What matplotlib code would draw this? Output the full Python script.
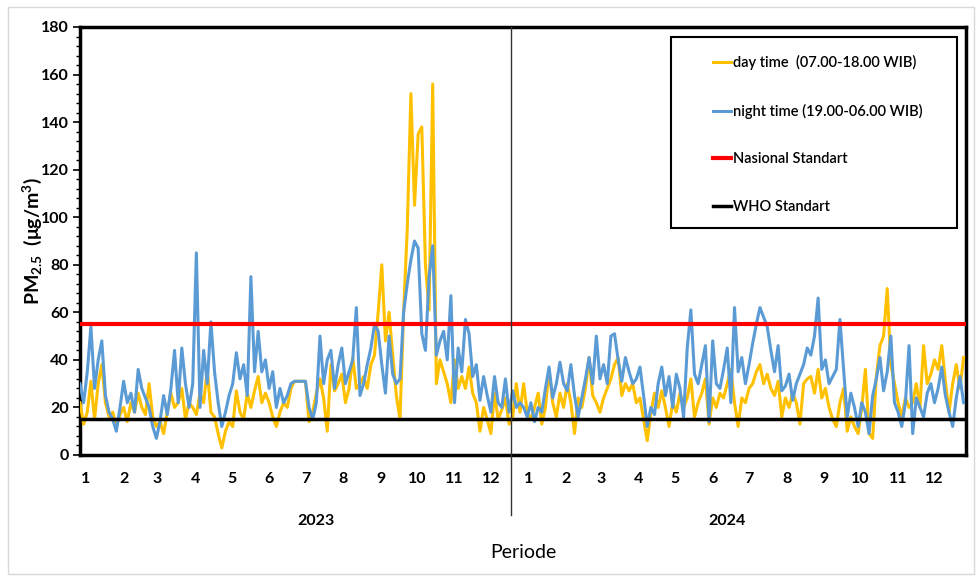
import matplotlib
matplotlib.use('Agg')
import matplotlib.pyplot as plt
import matplotlib.transforms as mtransforms
from matplotlib.patches import Rectangle
from matplotlib.ticker import MultipleLocator
import numpy as np
import pandas as pd

plt.rcParams['font.family'] = ['Lato', 'DejaVu Sans']
plt.rcParams['mathtext.fontset'] = 'custom'
plt.rcParams['mathtext.rm'] = 'Lato:bold'
plt.rcParams['mathtext.it'] = 'Lato:bold'
plt.rcParams['mathtext.bf'] = 'Lato:bold'

# one reading every 3 days, 1 Jan 2023 .. 31 Dec 2024
step_days = 3
night = [30, 22, 35, 54, 28, 40, 48, 25, 18, 15, 10, 20, 31, 22, 26, 18, 36, 28, 24, 20,
         12, 7, 14, 25, 17, 28, 44, 22, 45, 30, 20, 30, 85, 20, 44, 30, 56, 35, 22, 12,
         18, 25, 30, 43, 32, 38, 25, 75, 35, 52, 35, 40, 28, 35, 20, 28, 22, 25, 30, 31,
         31, 31, 31, 20, 15, 22, 50, 30, 40, 44, 28, 38, 45, 30, 35, 40, 62, 25, 30, 38,
         45, 55, 52, 38, 26, 50, 34, 30, 32, 60, 72, 82, 90, 87, 51, 44, 75, 88, 42, 48,
         52, 40, 67, 22, 45, 35, 57, 51, 33, 38, 23, 33, 25, 18, 33, 22, 20, 32, 18, 27,
         20, 22,
         20, 16, 22, 14, 20, 18, 28, 37, 24, 30, 39, 30, 27, 38, 25, 16, 24, 32, 41, 30,
         50, 32, 38, 30, 50, 51, 40, 31, 41, 35, 30, 32, 37, 25, 12, 20, 17, 30, 37, 25,
         33, 20, 34, 28, 16, 45, 61, 34, 30, 38, 46, 14, 48, 30, 28, 36, 45, 22, 62, 35,
         41, 30, 38, 47, 55, 62, 58, 54, 44, 35, 46, 27, 29, 34, 23, 30, 34, 38, 45, 42,
         50, 66, 36, 40, 30, 33, 36, 57, 36, 16, 26, 20, 12, 22, 18, 9, 25, 32, 41, 27,
         35, 50, 22, 18, 12, 22, 46, 9, 24, 20, 16, 26, 30, 22, 28, 37, 25, 18, 12, 24,
         33, 22]
day = [22, 13, 18, 31, 15, 30, 38, 22, 16, 18, 12, 17, 20, 14, 22, 18, 26, 20, 17, 30,
       16, 12, 14, 9, 18, 26, 20, 22, 28, 15, 22, 20, 17, 26, 22, 36, 18, 16, 9, 3,
       10, 14, 12, 27, 18, 15, 26, 20, 27, 33, 22, 26, 22, 16, 12, 18, 22, 20, 28, 31,
       31, 31, 31, 14, 18, 26, 32, 24, 10, 38, 27, 30, 34, 22, 28, 41, 28, 30, 33, 28,
       38, 42, 60, 80, 48, 60, 42, 25, 15, 60, 95, 152, 105, 135, 138, 80, 61, 156, 30, 40,
       35, 30, 22, 40, 28, 33, 28, 37, 26, 22, 10, 20, 15, 9, 26, 15, 19, 24, 13, 16,
       30, 18,
       30, 18, 15, 20, 26, 13, 20, 36, 22, 16, 26, 20, 30, 22, 9, 24, 20, 28, 41, 25,
       22, 18, 24, 28, 32, 38, 41, 25, 30, 27, 30, 22, 24, 15, 6, 18, 26, 20, 27, 20,
       12, 22, 18, 26, 20, 24, 32, 16, 22, 26, 32, 13, 24, 20, 26, 24, 30, 36, 22, 12,
       24, 22, 28, 30, 35, 38, 30, 34, 28, 25, 31, 16, 24, 20, 26, 22, 13, 30, 32, 33,
       26, 36, 24, 28, 20, 15, 12, 22, 28, 10, 16, 12, 9, 20, 36, 9, 7, 33, 46, 50,
       70, 38, 30, 22, 16, 24, 20, 22, 30, 20, 46, 30, 34, 40, 36, 46, 31, 18, 30, 38,
       28, 41]
nasional_std = 55
who_std = 15
years = ['2023', '2024']
month_labels = [str(m) for m in range(1, 13)] * 2

start = pd.Timestamp('2023-01-01')
month_starts = pd.date_range('2023-01-01', '2024-12-01', freq='MS')
tick_pos = [(d - start).days + 5 for d in month_starts]
year_split = (pd.Timestamp('2023-12-23') - start).days
n_days = (pd.Timestamp('2025-01-01') - start).days
year_label_pos = [(pd.Timestamp('2023-07-15') - start).days,
                  (pd.Timestamp('2024-06-18') - start).days]

x = np.arange(len(night)) * step_days

fig = plt.figure(figsize=(9.78, 5.77), dpi=100)
ax = fig.add_axes([80 / 978, 122 / 577, 886 / 978, 428 / 577])

ax.plot(x, day, color='#FFC000', lw=2.2, label='day time  (07.00-18.00 WIB)', zorder=3)
ax.plot(x, night, color='#5B9BD5', lw=2.2, label='night time (19.00-06.00 WIB)', zorder=3)
ax.axhline(nasional_std, color='#FF0000', lw=3, label='Nasional Standart', zorder=4)
ax.axhline(who_std, color='black', lw=2.5, label='WHO Standart', zorder=4)

ax.set_xlim(0, n_days)
ax.set_ylim(0, 180)
ax.yaxis.set_major_locator(MultipleLocator(20))
ax.yaxis.set_minor_locator(MultipleLocator(4))
ax.tick_params(axis='y', which='major', length=5, width=1.2, labelsize=11.5, pad=3)
ax.tick_params(axis='y', which='minor', length=3, width=1)
ax.set_xticks(tick_pos)
ax.set_xticklabels(month_labels)
ax.tick_params(axis='x', length=0, labelsize=11.5, pad=12)
for lab in ax.get_xticklabels() + ax.get_yticklabels():
    lab.set_fontweight('bold')
for s in ax.spines.values():
    s.set_linewidth(2.5)

# divider between years
trans = mtransforms.blended_transform_factory(ax.transData, ax.transAxes)
ax.plot([year_split, year_split], [1, -0.14], transform=trans, color='#333333',
        lw=1, clip_on=False, zorder=5)
for pos, yr in zip(year_label_pos, years):
    ax.text(pos, -0.155, yr, transform=trans, ha='center', va='center',
            fontsize=11.5, fontweight='bold')

ax.set_xlabel('Periode', fontsize=14, labelpad=42)
ax.set_ylabel(r'PM$_{2.5}$  (μg/m$^{3}$)', fontsize=14, fontweight='bold', labelpad=-2)

# legend box like excel
ax.add_patch(Rectangle((0.667, 0.530), 0.323, 0.447, transform=ax.transAxes,
                       facecolor='white', edgecolor='black', lw=1.5, zorder=6))
leg = ax.legend(loc='upper left', bbox_to_anchor=(0.7, 0.965), frameon=False,
                fontsize=10.5, handlelength=1.2, handletextpad=0.15,
                labelspacing=2.3)
leg.set_zorder(7)
for t in leg.get_texts():
    t.set_fontweight('semibold')

fig.patches.append(Rectangle((8 / 978, 3 / 577), 966 / 978, 567 / 577,
                             transform=fig.transFigure, fill=False,
                             edgecolor='#d9d9d9', lw=1))

fig.savefig('out.png', dpi=100)
